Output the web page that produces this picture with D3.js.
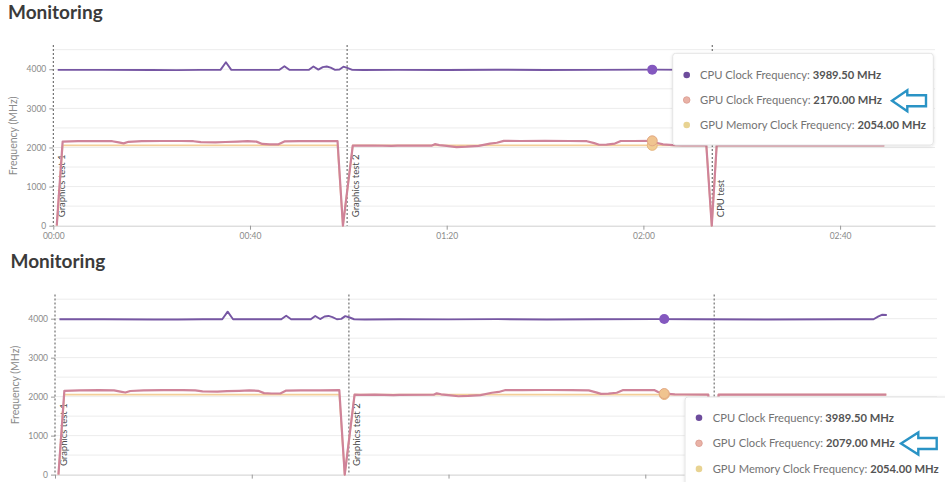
<!DOCTYPE html>
<html><head><meta charset="utf-8">
<script src="https://cdn.jsdelivr.net/npm/d3@7/dist/d3.min.js"></script>
<style>
body{margin:0;background:#fff;}
svg{display:block;font-family:Lato,'Open Sans',sans-serif;}
</style>
</head><body>
<svg id="c" width="945" height="482"></svg>
<script>
// ---------- data (seconds, MHz) ----------
const cpuTimes  = [0.9, 10, 20, 25, 30, 34, 35.1, 36.2, 46, 47, 48, 52, 52.9, 53.9, 54.8, 55.6, 56.4, 57.3, 58.2, 59, 59.9, 60.8, 63, 70, 80, 90, 100, 110, 121.8, 130, 145, 160, 166.4, 167.4, 168.1, 169.1];
const cpuValues = [3985, 3985, 3980, 3978, 3985, 3985, 4180, 3985, 3985, 4075, 3985, 3985, 4070, 3990, 4055, 4070, 4040, 3985, 3995, 4065, 4030, 3985, 3980, 3985, 3982, 3988, 3980, 3985, 3989.5, 3985, 3980, 3985, 3985, 4060, 4100, 4095];

const gpuTimes  = [0.7, 1.9, 5, 9, 12, 13.3, 14.3, 15.3, 18, 22, 26, 28.5, 30, 33, 35, 37.5, 39.5, 41.3, 42.5, 44, 45.8, 47, 50, 54, 57.8, 58.9, 60.9, 62, 65, 68.8, 70, 77, 77.6, 78.5, 80, 82, 84, 86.5, 88.8, 90.2, 91.6, 95, 100, 105, 108.5, 110, 111, 112.5, 114.2, 115.4, 118, 121.8, 122.6, 124, 126, 128, 132.8, 133.9, 134.9, 140, 150, 160, 169];
const gpuValues = [0, 2150, 2160, 2165, 2160, 2130, 2105, 2145, 2160, 2165, 2165, 2160, 2135, 2130, 2140, 2150, 2160, 2150, 2090, 2080, 2080, 2155, 2160, 2160, 2165, 0, 2050, 2045, 2050, 2040, 2045, 2048, 2085, 2060, 2040, 2010, 2020, 2040, 2100, 2120, 2170, 2165, 2170, 2165, 2160, 2110, 2070, 2075, 2100, 2165, 2165, 2170, 2120, 2079, 2060, 2055, 2050, 0, 2050, 2052, 2050, 2052, 2050];

const memTimes  = [0.7, 1.9, 57.8, 58.9, 60.9, 132.8, 133.9, 134.9, 169];
const memValues = [0, 2054, 2054, 0, 2054, 2054, 0, 2054, 2054];

const markerTimes  = [0, 59.75, 134.0];
const markerLabels = ["Graphics test 1", "Graphics test 2", "CPU test"];

const yTicks = [0, 1000, 2000, 3000, 4000];
const xTicks = [0, 40, 80, 120, 160];
const xTickLabels = ["00:00", "00:40", "01:20", "02:00", "02:40"];

const tooltipLabels = ["CPU Clock Frequency", "GPU Clock Frequency", "GPU Memory Clock Frequency"];
const hoverValuesTop    = [3989.50, 2170.00, 2054.00];
const hoverValuesBottom = [3989.50, 2079.00, 2054.00];
const hoverTimes = [121.8, 123.85];

const seriesColors = ["#7656a3", "#cf8399", "#f3cf98"];
const dotColors    = ["#6d4c9c", "#e9b2a6", "#e8d392"];

// ---------- drawing ----------
const svg = d3.select("#c");
const defs = svg.append("defs");
const f = defs.append("filter").attr("id", "sh").attr("x", "-10%").attr("y", "-10%").attr("width", "120%").attr("height", "130%");
f.append("feDropShadow").attr("dx", 0).attr("dy", 1).attr("stdDeviation", 1.5).attr("flood-color", "#000").attr("flood-opacity", 0.12);

function zip(t, v) { return t.map((d, i) => [d, v[i]]); }

function panel(cfg) {
  const g = svg.append("g");
  g.append("text").attr("x", cfg.titleX).attr("y", cfg.titleY)
    .attr("font-size", 19).attr("font-weight", 700).attr("fill", "#3b3b3b").text("Monitoring");

  const x = d3.scaleLinear().domain([0, 179.3]).range([cfg.left, cfg.right]);
  const y = d3.scaleLinear().domain([0, 4620]).range([cfg.bottom, cfg.top]);

  // grid
  g.append("g").selectAll("line").data(d3.range(500, 4501, 500)).join("line")
    .attr("x1", cfg.left).attr("x2", cfg.right)
    .attr("y1", d => y(d)).attr("y2", d => y(d))
    .attr("stroke", "#ececec").attr("stroke-width", 1);

  // y axis
  const ya = g.append("g").attr("transform", `translate(${cfg.left},0)`)
    .call(d3.axisLeft(y).tickValues(yTicks).tickSize(4).tickPadding(3).tickFormat(d3.format("d")));
  ya.select(".domain").remove();
  ya.selectAll(".tick line").attr("stroke", "#999");
  ya.selectAll(".tick text").attr("fill", "#8a8a8a").attr("font-size", 8.5).attr("font-family", "Lato, sans-serif");

  // x axis (the lower screenshot is cropped below its tick marks)
  const xa = g.append("g").attr("transform", `translate(0,${cfg.bottom})`)
    .call(d3.axisBottom(x).tickValues(xTicks).tickSize(4).tickSizeOuter(0).tickPadding(3)
      .tickFormat((d, i) => cfg.xLabels ? xTickLabels[i] : ""));
  xa.select(".domain").attr("stroke", "#cfcfcf");
  xa.selectAll(".tick line").attr("stroke", "#999");
  xa.selectAll(".tick text").attr("fill", "#8a8a8a").attr("font-size", 8.5).attr("font-family", "Lato, sans-serif");

  // y label
  g.append("text").attr("transform", `translate(${cfg.left - 36},${(cfg.top + cfg.bottom) / 2 + 0.5}) rotate(-90)`)
    .attr("text-anchor", "middle").attr("font-size", 10.5).attr("fill", "#8a8a8a").text("Frequency (MHz)");

  // markers
  g.append("g").selectAll("line").data(markerTimes).join("line")
    .attr("x1", d => x(d)).attr("x2", d => x(d))
    .attr("y1", cfg.top).attr("y2", cfg.bottom)
    .attr("stroke", "#555").attr("stroke-width", 1).attr("stroke-dasharray", "2,2");
  g.append("g").selectAll("text").data(markerTimes).join("text")
    .attr("transform", d => `translate(${x(d) + 11.5},${cfg.bottom - 8.5}) rotate(-90)`)
    .attr("font-size", 9.5).attr("fill", "#4a4a4a").text((d, i) => markerLabels[i]);

  // lines
  const line = d3.line().x(d => x(d[0])).y(d => y(d[1]));
  g.append("path").datum(zip(memTimes, memValues)).attr("d", line)
    .attr("fill", "none").attr("stroke", seriesColors[2]).attr("stroke-width", 1.8).attr("stroke-linejoin", "round");
  g.append("path").datum(zip(gpuTimes, gpuValues)).attr("d", line)
    .attr("fill", "none").attr("stroke", seriesColors[1]).attr("stroke-width", 2.2).attr("stroke-linejoin", "round");
  g.append("path").datum(zip(cpuTimes, cpuValues)).attr("d", line)
    .attr("fill", "none").attr("stroke", seriesColors[0]).attr("stroke-width", 1.9).attr("stroke-linejoin", "round");

  // hover points
  const hx = x(cfg.hoverT);
  g.append("circle").attr("cx", hx).attr("cy", y(cfg.hover[2])).attr("r", 5).attr("fill", "#f1cd92").attr("stroke", "#e6b57e").attr("stroke-width", 1);
  g.append("circle").attr("cx", hx).attr("cy", y(cfg.hover[1])).attr("r", 5).attr("fill", "#f0c48f").attr("stroke", "#e2a884").attr("stroke-width", 1);
  g.append("circle").attr("cx", hx).attr("cy", y(cfg.hover[0])).attr("r", 5).attr("fill", "#8458bf");

  // tooltip
  const tt = cfg.tip;
  g.append("rect").attr("x", tt.x).attr("y", tt.y).attr("width", tt.w).attr("height", tt.h)
    .attr("rx", 3).attr("fill", "#fff").attr("stroke", "#e4e4e4").attr("filter", "url(#sh)");
  tooltipLabels.forEach((lab, i) => {
    const cy = tt.row0 + i * tt.dy;
    g.append("circle").attr("cx", tt.dotX).attr("cy", cy).attr("r", 3.3).attr("fill", dotColors[i])
      .attr("stroke", i === 1 ? "#d99a8f" : "none").attr("stroke-width", 0.8);
    const t = g.append("text").attr("x", tt.textX).attr("y", cy + 4).attr("font-size", 11.2);
    t.append("tspan").attr("fill", "#737373").text(lab + ": ");
    t.append("tspan").attr("fill", "#545454").attr("font-weight", 700).text(cfg.hover[i].toFixed(2) + " MHz");
  });

  // annotation arrow
  const a = cfg.arrow;
  const pts = [[a.tx, a.ty], [a.hx, a.ty - a.hh], [a.hx, a.ty - a.sh], [a.rx, a.ty - a.sh], [a.rx, a.ty + a.sh], [a.hx, a.ty + a.sh], [a.hx, a.ty + a.hh]];
  g.append("polygon").attr("points", pts.map(p => p.join(",")).join(" "))
    .attr("fill", "none").attr("stroke", "#2a93c5").attr("stroke-width", 2.4).attr("stroke-linejoin", "miter");
}

panel({
  titleX: 8, titleY: 18.5, xLabels: true,
  left: 53.3, right: 935, top: 45, bottom: 225.7,
  hoverT: hoverTimes[0], hover: hoverValuesTop,
  tip: {x: 672.7, y: 53.3, w: 260.6, h: 91.7, row0: 75, dy: 25, dotX: 686.7, textX: 700},
  arrow: {tx: 892, ty: 100.8, hx: 907.3, hh: 10.5, sh: 5.5, rx: 926}
});
panel({
  titleX: 10.5, titleY: 267.5, xLabels: false,
  left: 55, right: 937, top: 294.5, bottom: 474.6,
  hoverT: hoverTimes[1], hover: hoverValuesBottom,
  tip: {x: 685, y: 397, w: 275, h: 100, row0: 417.7, dy: 25.6, dotX: 699, textX: 712.7},
  arrow: {tx: 901, ty: 443.5, hx: 918.3, hh: 11, sh: 5.5, rx: 936.7}
});
</script>
</body></html>
